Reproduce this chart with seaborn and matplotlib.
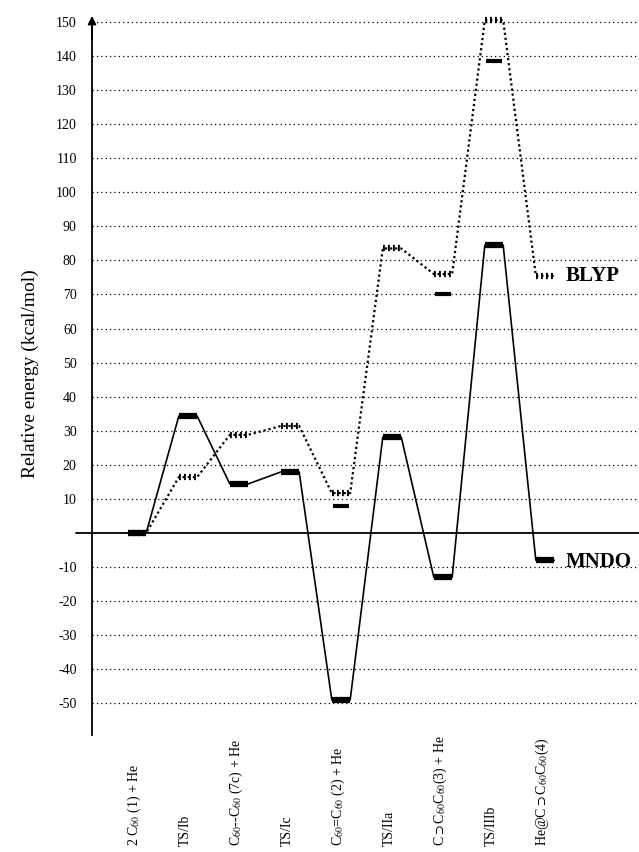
import numpy as np
import pandas as pd
import matplotlib
matplotlib.use("Agg")
import matplotlib.pyplot as plt
import seaborn as sns

# species along the reaction path
species = [r"2 C$_{60}$ (1) + He", "TS/Ib", r"C$_{60}$--C$_{60}$ (7c) + He", "TS/Ic",
           r"C$_{60}$=C$_{60}$ (2) + He", "TS/IIa", r"C$\supset$C$_{60}$C$_{60}$(3) + He",
           "TS/IIIb", r"He@C$\supset$C$_{60}$C$_{60}$(4)"]
mndo = [0, 34.3, 14.4, 17.9, -49.0, 28.2, -13.0, 84.5, -8.0]
blyp = [0, 16.4, 28.8, 31.4, 11.7, 83.5, 76.0, 150.5, 75.5]
# extra single-point levels drawn as thin solid bars
extra_idx = [4, 6, 7]
extra_val = [7.9, 70.0, 138.5]
yticks = [v for v in range(-50, 160, 10) if v != 0]

sns.set_style("white")
plt.rcParams['font.family'] = ['Liberation Serif', 'DejaVu Serif']
plt.rcParams['mathtext.fontset'] = 'stix'
plt.rcParams['text.color'] = 'black'
plt.rcParams['axes.labelcolor'] = 'black'
plt.rcParams['ytick.color'] = 'black'

fig = plt.figure(figsize=(6.39, 8.52), dpi=100)
ax = fig.add_axes([0.144, 0.1373, 0.856, 0.8474])
ax.set_xlim(-0.882, 9.843)
ax.set_ylim(-59.3, 152.6)

w = 0.18

def path(vals, name):
    xs, ys = [], []
    for i, v in enumerate(vals):
        xs += [i - w, i + w]
        ys += [v, v]
    return pd.DataFrame({"x": xs, "y": ys, "method": name})

# grid
for v in yticks:
    ax.axhline(v, color="black", lw=0.9, ls=(0, (1, 2.5)), zorder=1)
ax.plot([-1.2, 9.843], [0, 0], color="black", lw=1.3, clip_on=False, zorder=2)

dm = path(mndo, "MNDO")
db = path(blyp, "BLYP")
sns.lineplot(data=db, x="x", y="y", sort=False, estimator=None, ax=ax,
             color="black", lw=1.6, ls=(0, (1, 1.3)), zorder=3)
sns.lineplot(data=dm, x="x", y="y", sort=False, estimator=None, ax=ax,
             color="black", lw=1.2, zorder=4)

x = np.arange(len(species))
ax.hlines(mndo, x - w, x + w, color="black", lw=4.5, zorder=5)
ax.hlines(blyp, x - w, x + w, color="black", lw=4.5, ls=(0, (0.3, 0.5)), zorder=5)
ex = np.array(extra_idx)
ax.hlines(extra_val, ex - 0.16, ex + 0.16, color="black", lw=3, zorder=5)

ax.text(8.4, blyp[-1], "BLYP", fontsize=15, fontweight="bold", va="center", ha="left")
ax.text(8.4, mndo[-1] - 0.5, "MNDO", fontsize=15, fontweight="bold", va="center", ha="left")

# axis with arrow
for s in ["top", "right", "bottom"]:
    ax.spines[s].set_visible(False)
ax.spines["left"].set_linewidth(1.3)
ax.spines["left"].set_color("black")
ax.spines["left"].set_bounds(-59.3, 150)
ax.annotate("", xy=(0, 1.0), xycoords="axes fraction", xytext=(0, 0.96),
            arrowprops=dict(arrowstyle="-|>", color="black", lw=1.3, mutation_scale=12))

ax.set_yticks(yticks)
ax.set_yticklabels([str(v) for v in yticks], fontsize=10)
ax.tick_params(axis="y", direction="inout", length=10, width=1.3, pad=6)
ax.set_xticks([])
ax.set_xlabel("")
ax.set_ylabel("Relative energy (kcal/mol)", fontsize=14, labelpad=12)

# labels read bottom-to-top, starting near the bottom edge
for i, s in enumerate(species):
    ax.text(i - 0.05, -92.0, s, rotation=90, ha="center", va="bottom", fontsize=10)

fig.savefig("out.png", dpi=100)
